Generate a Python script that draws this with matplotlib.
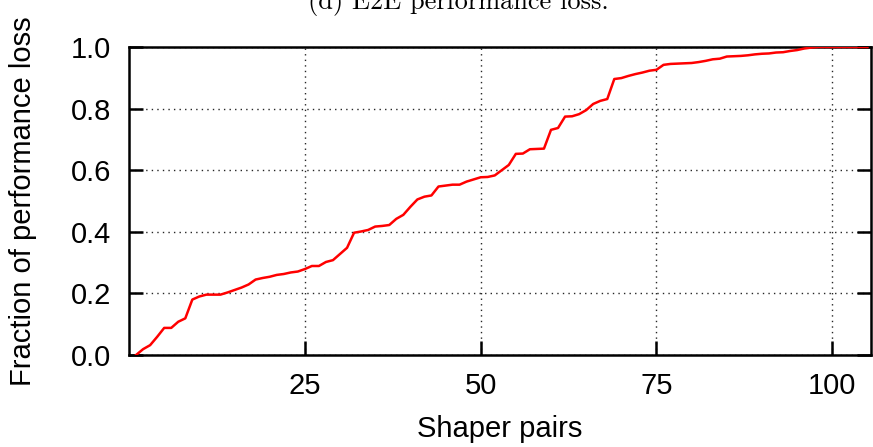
import numpy as np
import matplotlib
matplotlib.use("Agg")
import matplotlib.pyplot as plt

# shaper pair index and cumulative fraction of performance loss
pairs = np.arange(1, 106)
loss_frac = [
    0.000, 0.019, 0.032, 0.059, 0.088, 0.088, 0.108, 0.119, 0.180, 0.190,
    0.196, 0.196, 0.196, 0.203, 0.211, 0.219, 0.229, 0.245, 0.250, 0.254,
    0.260, 0.263, 0.268, 0.271, 0.279, 0.289, 0.289, 0.302, 0.308, 0.328,
    0.348, 0.397, 0.401, 0.406, 0.417, 0.419, 0.422, 0.442, 0.455, 0.481,
    0.505, 0.514, 0.518, 0.547, 0.550, 0.553, 0.553, 0.563, 0.570, 0.577,
    0.578, 0.583, 0.600, 0.617, 0.653, 0.654, 0.668, 0.669, 0.670, 0.731,
    0.737, 0.774, 0.775, 0.782, 0.795, 0.815, 0.825, 0.831, 0.896, 0.899,
    0.906, 0.912, 0.917, 0.923, 0.926, 0.942, 0.945, 0.946, 0.947, 0.948,
    0.951, 0.955, 0.960, 0.962, 0.969, 0.970, 0.971, 0.973, 0.976, 0.978,
    0.979, 0.982, 0.983, 0.987, 0.990, 0.995, 0.998, 1.000, 1.000, 1.000,
    1.000, 1.000, 1.000, 1.000, 1.000,
]
x_ticks = [25, 50, 75, 100]
y_ticks = [0.0, 0.2, 0.4, 0.6, 0.8, 1.0]

plt.rcParams['font.family'] = ['Liberation Sans', 'DejaVu Sans']
plt.rcParams['font.size'] = 21

fig = plt.figure(figsize=(8.73, 4.47), dpi=100)
ax = fig.add_axes([0.1478, 0.2058, 0.8499, 0.6891])

ax.plot(pairs, loss_frac, color='#ff0000', lw=1.8, zorder=3)

ax.set_xlim(0, 105.5)
ax.set_ylim(0, 1.0)
ax.set_xticks(x_ticks)
ax.set_yticks(y_ticks)
ax.set_yticklabels(['%.1f' % v for v in y_ticks])

ax.grid(True, color='0.15', linestyle=(0, (1, 3)), linewidth=1.0)
for s in ax.spines.values():
    s.set_linewidth(1.8)
ax.tick_params(direction='in', length=10, width=1.8, right=True, top=False)
ax.tick_params(axis='y', pad=13)
ax.tick_params(axis='x', pad=12)

ax.set_xlabel('Shaper pairs', labelpad=11)
ax.set_ylabel('Fraction of performance loss', labelpad=24)

# panel caption, partly above the top edge
fig.text(0.525, 1 - 9 / 447, '(d) E2E performance loss.', family='cmr10',
         fontsize=19, ha='center', va='baseline')

fig.savefig('out.png', dpi=100)
